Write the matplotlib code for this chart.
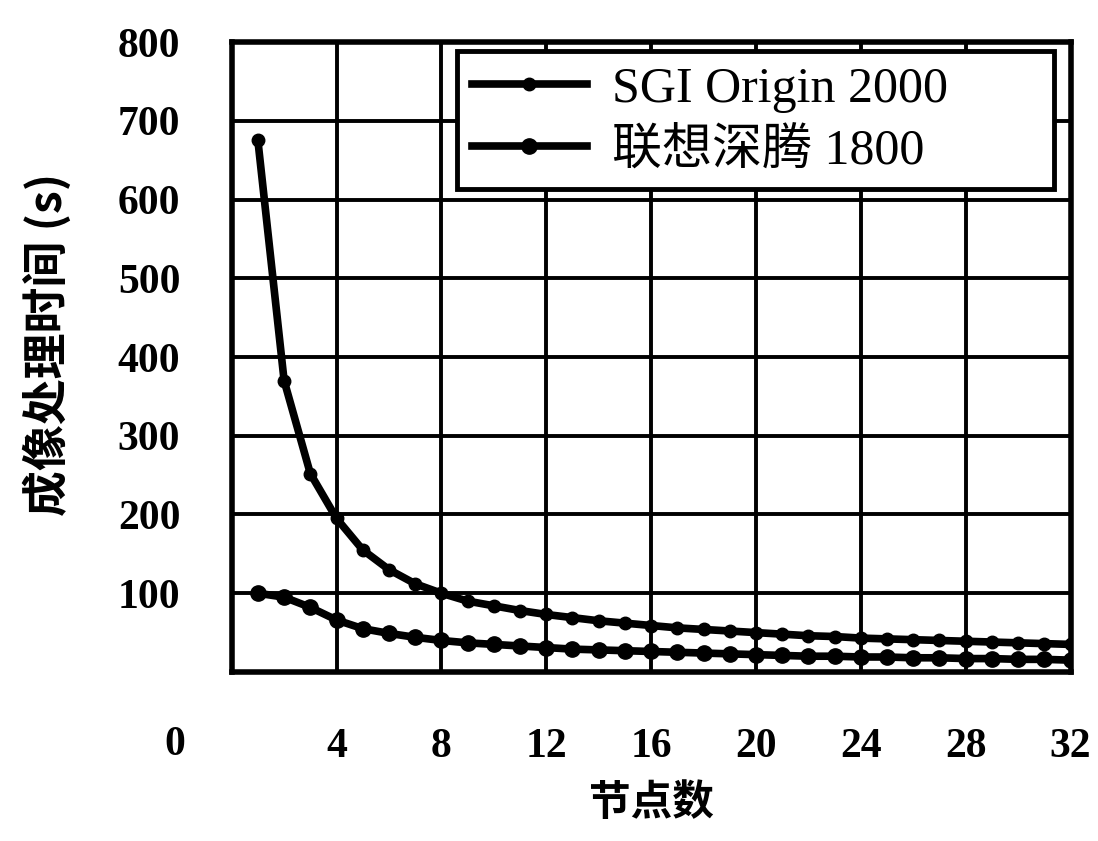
import matplotlib.pyplot as plt

plt.rcParams['font.family'] = ['Liberation Serif', 'Noto Sans CJK SC', 'DejaVu Sans']

nodes = list(range(1, 33))
sgi_time = [675, 370, 252, 195, 155, 130, 112, 100, 90, 84, 78, 73, 69, 65, 62, 59,
            56, 54, 52, 50, 48, 46, 45, 43, 42, 41, 40, 39, 38, 37, 36, 35]
lenovo_time = [100, 95, 82, 66, 55, 49, 44, 40, 37, 35, 33, 31, 29, 28, 27, 26,
               25, 24, 23, 22, 21, 20, 20, 19, 19, 18, 18, 17, 17, 16, 16, 15]
x_ticks = [4, 8, 12, 16, 20, 24, 28, 32]
y_ticks = [100, 200, 300, 400, 500, 600, 700, 800]

fig = plt.figure(figsize=(10.98, 8.41), dpi=100)
ax = fig.add_axes([0.211, 0.201, 0.764, 0.749])

ax.plot(nodes, sgi_time, color='black', lw=5.5, marker='o', ms=9, label='SGI Origin 2000')
ax.plot(nodes, lenovo_time, color='black', lw=5.5, marker='o', ms=11, label='联想深腾 1800')

ax.set_xlim(0, 32)
ax.set_ylim(0, 800)
ax.set_xticks(x_ticks)
ax.set_yticks(y_ticks)
ax.grid(True, color='black', lw=2.8)
ax.set_axisbelow(True)
for s in ax.spines.values():
    s.set_linewidth(4)

ax.tick_params(length=0)
ax.tick_params(axis='x', pad=40)
ax.tick_params(axis='y', pad=37)
for lab in ax.get_xticklabels() + ax.get_yticklabels():
    lab.set_fontsize(30)
    lab.set_fontweight('bold')
    lab.set_family('Liberation Serif')

# shared origin label
ax.text(-0.068, -0.116, '0', transform=ax.transAxes, fontsize=30, fontweight='bold',
        family='Liberation Serif', ha='center', va='center')

ax.set_ylabel('成像处理时间 (s)', fontsize=33, family=['Noto Sans CJK SC', 'DejaVu Sans'],
              fontweight='bold', labelpad=20)
ax.yaxis.set_label_coords(-0.19, 0.52)
ax.set_xlabel('节点数', fontsize=30, family=['Noto Sans CJK SC'], fontweight='bold', labelpad=12)

leg = ax.legend(loc='upper left', bbox_to_anchor=(0.2685, 0.0, 0.7115, 0.985), mode='expand',
                frameon=True, fancybox=False, borderaxespad=0,
                handlelength=2.3, borderpad=0.3, labelspacing=0.3, handletextpad=0.5,
                prop={'family': ['Liberation Serif', 'Noto Sans CJK SC'], 'size': 36})
leg.get_frame().set_edgecolor('black')
leg.get_frame().set_linewidth(3.5)
leg.get_frame().set_alpha(1)

fig.savefig('out.png', dpi=100)
